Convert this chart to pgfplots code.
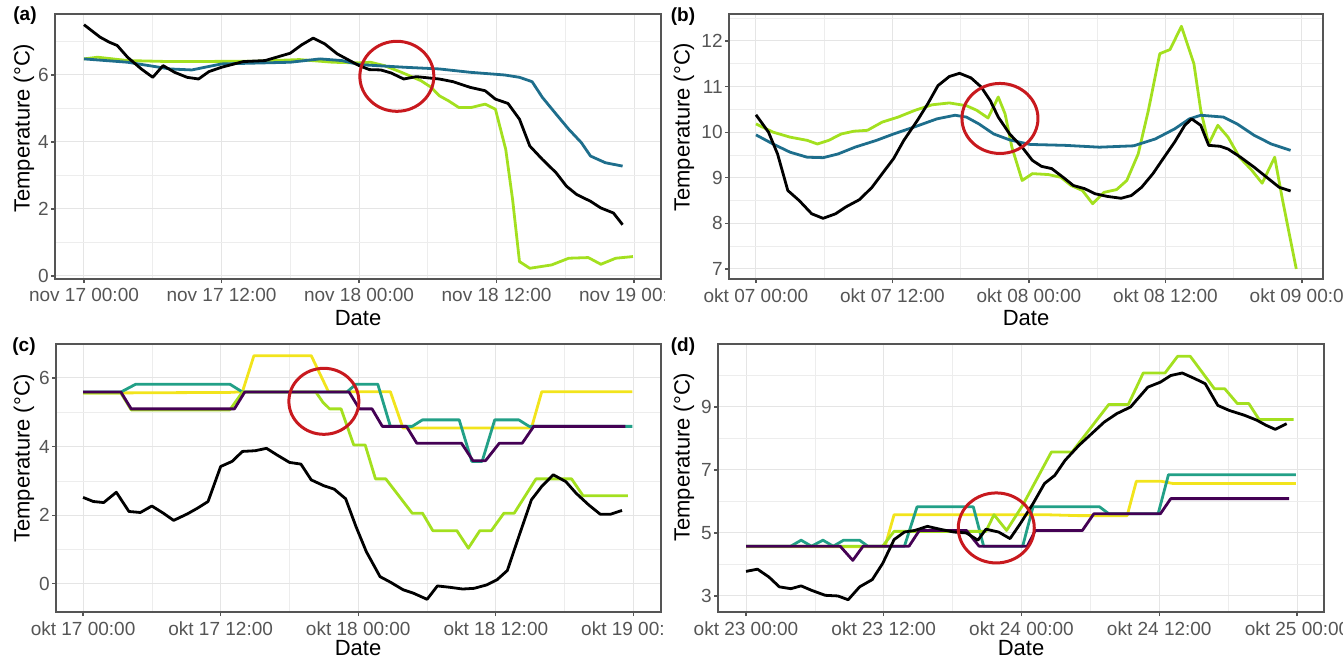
\documentclass[border=0pt]{standalone}
\usepackage{pgfplots}
\pgfplotsset{compat=1.18}
\usepackage{fontspec}
\setmainfont{Liberation Sans}

\definecolor{lime}{HTML}{A3E01F}
\definecolor{petrol}{HTML}{1E6E8C}
\definecolor{vteal}{HTML}{22A087}
\definecolor{vyellow}{HTML}{F2E41C}
\definecolor{vpurple}{HTML}{440154}
\definecolor{circ}{HTML}{C8191E}
\definecolor{framegray}{HTML}{555555}
\definecolor{tickgray}{HTML}{555555}

\tikzset{ring/.style={circ, line width=1.5pt}}
\pgfplotsset{
  panel/.style={
    scale only axis, anchor=south west,
    axis line style={framegray, line width=0.8pt},
    tick style={framegray, line width=0.6pt},
    tick align=outside, major tick length=2pt, minor tick length=0pt,
    xtick pos=left, ytick pos=left,
    grid=both,
    major grid style={color=black!10, line width=0.5pt},
    minor grid style={color=black!7, line width=0.3pt},
    xtick={0,12,24,36,48}, minor xtick={6,18,30,42},
    ticklabel style={font=\fontsize{9.5}{11}\selectfont, text=tickgray, inner sep=1pt},
    xticklabel style={yshift=-1.5pt},
    /pgf/number format/assume math mode=true,
    every axis plot/.append style={line width=1.4pt, line join=round, no markers},
  },
}

\begin{document}
\begin{tikzpicture}
\useasboundingbox (0,0) rectangle (671.5pt,330.5pt);

% (a)
\begin{scope}
\clip (0,165.5pt) rectangle (332pt,330.5pt);
\begin{axis}[panel, at={(27.5pt,191pt)}, width=303pt, height=132.5pt,
  xmin=-2.53, xmax=50.35, ymin=-0.09, ymax=7.82,
  ytick={0,2,4,6}, minor ytick={1,3,5,7},
  xticklabels={nov 17 00:00, nov 17 12:00, nov 18 00:00, nov 18 12:00, nov 19 00:00}]
\addplot[lime] coordinates {(0,6.48)(1.2,6.53)(3.8,6.43)(7.5,6.4)(15,6.41)(18.8,6.46)(21.7,6.38)(24,6.36)(25,6.38)(26.2,6.28)(27.7,6.08)(29.4,5.83)(30.3,5.63)(31,5.38)(31.8,5.23)(32.7,5.03)(33.8,5.03)(35,5.13)(35.9,4.98)(36.8,3.78)(37.4,2.28)(38,0.43)(38.9,0.23)(40.8,0.33)(42.3,0.53)(44,0.55)(45.1,0.35)(46.4,0.53)(47.9,0.58)};
\addplot[petrol] coordinates {(0,6.48)(3.8,6.38)(7.5,6.18)(9.4,6.15)(12,6.33)(18,6.38)(20.6,6.48)(22.5,6.43)(24,6.31)(28,6.23)(31,6.18)(33.7,6.08)(36.7,6.0)(38,5.93)(39.1,5.8)(40,5.33)(41.2,4.83)(42.3,4.38)(43.4,3.98)(44.2,3.58)(45.5,3.38)(47,3.28)};
\addplot[black] coordinates {(0,7.5)(1.4,7.13)(2.2,6.98)(2.9,6.88)(3.8,6.53)(5,6.18)(6,5.93)(6.9,6.28)(7.9,6.08)(9,5.93)(10,5.88)(10.9,6.1)(12,6.23)(13.9,6.4)(15.8,6.43)(18,6.65)(19,6.9)(20,7.1)(21,6.93)(22.1,6.63)(24,6.28)(24.9,6.16)(25.9,6.15)(26.8,6.06)(27.9,5.88)(29,5.95)(31,5.88)(32.2,5.8)(33.7,5.63)(35,5.53)(35.9,5.28)(37,5.15)(38,4.68)(38.9,3.88)(40,3.48)(41.2,3.08)(42.1,2.68)(43,2.43)(44.2,2.23)(45.1,2.03)(46.2,1.88)(47,1.53)};
\draw[ring] (axis cs:27.3,5.96) ellipse [x radius=18.5pt, y radius=17.5pt];
\end{axis}
\end{scope}

% (b)
\begin{scope}
\clip (332pt,165.5pt) rectangle (671.5pt,330.5pt);
\begin{axis}[panel, at={(364.5pt,191pt)}, width=297pt, height=132.5pt,
  xmin=-2.37, xmax=49.85, ymin=6.78, ymax=12.59,
  ytick={7,8,9,10,11,12}, minor ytick={7.5,8.5,9.5,10.5,11.5,12.5},
  xticklabels={okt 07 00:00, okt 07 12:00, okt 08 00:00, okt 08 12:00, okt 09 00:00}]
\addplot[lime] coordinates {(0,10.18)(1.5,10.0)(3,9.89)(4.5,9.82)(5.4,9.74)(6.4,9.82)(7.5,9.96)(8.6,10.02)(9.8,10.04)(11.1,10.22)(12.5,10.33)(14,10.48)(15.5,10.6)(17,10.64)(18.5,10.58)(19.4,10.48)(20.4,10.31)(21.3,10.77)(21.9,10.4)(22.5,9.67)(23.4,8.94)(24.3,9.09)(25.7,9.07)(26.8,9.01)(27.7,8.83)(28.7,8.72)(29.6,8.43)(30.6,8.68)(31.7,8.74)(32.6,8.94)(33.6,9.52)(34.5,10.48)(35.5,11.72)(36.4,11.81)(37.4,12.32)(38.5,11.5)(39.1,10.48)(39.8,9.74)(40.6,10.15)(41.5,9.89)(42.5,9.45)(43.6,9.16)(44.5,8.88)(45.6,9.45)(46.3,8.5)(47.5,7.0)};
\addplot[petrol] coordinates {(0,9.94)(1.5,9.74)(3,9.56)(4.5,9.45)(5.9,9.44)(7.2,9.52)(8.7,9.67)(10.6,9.82)(12.1,9.96)(14,10.12)(15.9,10.29)(17.5,10.37)(18.5,10.33)(19.6,10.18)(20.9,9.96)(22.3,9.83)(24.1,9.73)(27.2,9.71)(30.2,9.67)(33.2,9.7)(35.1,9.85)(36.8,10.07)(38.1,10.29)(39.1,10.37)(41.1,10.33)(42.3,10.18)(43.8,9.93)(45.3,9.74)(47,9.6)};
\addplot[black] coordinates {(0,10.38)(1.1,10.0)(1.9,9.52)(2.8,8.72)(3.8,8.5)(4.9,8.21)(5.9,8.11)(7,8.21)(7.9,8.36)(9.1,8.52)(10.2,8.79)(11.1,9.09)(12.1,9.42)(13,9.82)(14.2,10.26)(15.1,10.62)(16,11.02)(17,11.22)(17.9,11.29)(18.9,11.19)(19.8,10.99)(20.6,10.69)(21.3,10.33)(22.3,9.96)(23.4,9.67)(24.3,9.38)(25.1,9.25)(26,9.2)(27,9.01)(27.9,8.83)(28.9,8.76)(29.8,8.65)(30.9,8.59)(32.1,8.55)(33,8.61)(33.9,8.79)(34.9,9.09)(35.8,9.42)(36.8,9.78)(37.7,10.15)(38.3,10.29)(39.1,10.15)(39.8,9.71)(40.8,9.69)(41.5,9.63)(42.6,9.45)(43.8,9.23)(44.9,9.01)(46,8.79)(47,8.71)};
\draw[ring] (axis cs:21.45,10.3) ellipse [x radius=19pt, y radius=17.5pt];
\end{axis}
\end{scope}

% (c)
\begin{scope}
\clip (0,0) rectangle (332pt,165.5pt);
\begin{axis}[panel, at={(28pt,24.5pt)}, width=302.5pt, height=134pt,
  xmin=-2.36, xmax=50.4, ymin=-0.82, ymax=6.99,
  ytick={0,2,4,6}, minor ytick={1,3,5},
  xticklabels={okt 17 00:00, okt 17 12:00, okt 18 00:00, okt 18 12:00, okt 19 00:00}]
\addplot[vyellow] coordinates {(0,5.56)(12.8,5.58)(13.9,5.6)(14.9,6.65)(19.9,6.65)(21.4,5.6)(26.8,5.6)(27.9,4.54)(39.1,4.54)(40,5.6)(47.9,5.6)};
\addplot[vteal] coordinates {(0,5.59)(3.3,5.59)(4.6,5.82)(12.8,5.82)(13.9,5.59)(23,5.59)(23.8,5.82)(25.7,5.82)(26.8,4.59)(28.7,4.59)(29.6,4.78)(32.8,4.78)(33.9,3.57)(34.8,3.57)(35.9,4.78)(38,4.78)(38.9,4.59)(47.9,4.59)};
\addplot[lime] coordinates {(0,5.56)(3.3,5.56)(4.2,5.07)(12.8,5.07)(13.9,5.59)(20.3,5.59)(20.9,5.3)(21.5,5.1)(22.5,5.1)(23.6,4.05)(24.6,4.05)(25.5,3.06)(26.4,3.06)(28.7,2.06)(29.6,2.06)(30.5,1.55)(32.6,1.55)(33.6,1.04)(34.6,1.55)(35.6,1.55)(36.7,2.06)(37.6,2.06)(39.5,3.06)(42.6,3.06)(43.6,2.57)(47.5,2.57)};
\addplot[vpurple] coordinates {(0,5.59)(3.3,5.59)(4.2,5.1)(13.2,5.1)(14.1,5.59)(23.2,5.59)(24.1,5.1)(25.2,5.1)(26.1,4.59)(28.2,4.59)(29.1,4.1)(33,4.1)(34,3.59)(35.1,3.59)(36.3,4.1)(38.3,4.1)(39.3,4.59)(47.3,4.59)};
\addplot[black] coordinates {(0,2.52)(0.9,2.4)(1.8,2.37)(2.9,2.67)(4,2.11)(5,2.08)(6,2.27)(7,2.06)(7.9,1.85)(9.1,2.04)(10,2.21)(10.9,2.4)(12,3.42)(13,3.57)(13.9,3.86)(15,3.88)(16,3.95)(16.9,3.76)(18,3.54)(19,3.49)(19.9,3.03)(21,2.86)(21.9,2.76)(22.9,2.48)(23.8,1.67)(24.7,0.94)(25.9,0.21)(26.8,0.05)(27.9,-0.17)(28.8,-0.27)(30,-0.45)(30.9,-0.06)(32,-0.1)(33.1,-0.15)(34.1,-0.13)(35.2,-0.03)(36.1,0.12)(37,0.39)(38,1.38)(39.1,2.45)(40,2.84)(41,3.18)(42.1,2.98)(43,2.64)(44.1,2.3)(45.1,2.03)(46,2.03)(47,2.14)};
\draw[ring] (axis cs:21.0,5.32) ellipse [x radius=17.5pt, y radius=16.5pt];
\end{axis}
\end{scope}

% (d)
\begin{scope}
\clip (332pt,0) rectangle (671.5pt,165.5pt);
\begin{axis}[panel, at={(359pt,24.5pt)}, width=303pt, height=134pt,
  xmin=-2.44, xmax=50.35, ymin=2.49, ymax=11.0,
  ytick={3,5,7,9}, minor ytick={4,6,8,10},
  xticklabels={okt 23 00:00, okt 23 12:00, okt 24 00:00, okt 24 12:00, okt 25 00:00}]
\addplot[vyellow] coordinates {(0,4.56)(12.1,4.56)(12.9,5.58)(26,5.58)(29,5.55)(33.2,5.55)(34,6.64)(36.2,6.64)(37.2,6.57)(47.9,6.57)};
\addplot[vteal] coordinates {(0,4.58)(3.9,4.58)(4.8,4.77)(5.7,4.58)(6.7,4.77)(7.6,4.58)(8.5,4.77)(9.9,4.77)(10.6,4.58)(13.8,4.58)(14.9,5.83)(19.8,5.83)(20.7,4.58)(24.1,4.58)(25,5.83)(30.8,5.83)(31.6,5.61)(35.9,5.61)(36.8,6.85)(47.9,6.85)};
\addplot[lime] coordinates {(0,4.58)(11.9,4.58)(12.9,5.05)(20.3,5.05)(20.9,5.05)(21.6,5.58)(22.7,5.08)(24.1,5.88)(26.6,7.57)(28.4,7.57)(31.6,9.08)(33.3,9.08)(34.6,10.08)(36.5,10.08)(37.6,10.61)(38.7,10.61)(40.8,9.58)(41.7,9.58)(42.8,9.11)(43.8,9.11)(44.7,8.6)(47.7,8.6)};
\addplot[vpurple] coordinates {(0,4.58)(8.2,4.58)(9.3,4.13)(10.2,4.58)(14.2,4.58)(15.1,5.08)(19.2,5.08)(20.3,4.58)(24.5,4.58)(25.2,5.08)(29.3,5.08)(30.3,5.61)(36.1,5.61)(37,6.09)(47.3,6.09)};
\addplot[black] coordinates {(0,3.78)(1,3.85)(2,3.6)(2.9,3.29)(3.9,3.23)(4.8,3.32)(5.7,3.18)(6.9,3.02)(8,3.0)(8.9,2.88)(9.9,3.29)(11,3.52)(11.9,4.03)(12.9,4.79)(13.8,5.03)(14.7,5.08)(15.8,5.21)(17,5.11)(18.1,5.03)(19.2,5.0)(20.2,4.77)(20.9,5.12)(22,5.03)(23,4.82)(23.9,5.3)(25,5.93)(26,6.57)(26.9,6.83)(27.8,7.31)(29,7.78)(30.1,8.15)(31.2,8.52)(32.3,8.79)(33.5,9.0)(34,9.21)(35,9.63)(36.1,9.79)(37,10.0)(38,10.08)(39.1,9.9)(40,9.74)(41.1,9.05)(42.1,8.89)(43.4,8.74)(44.5,8.58)(45.3,8.42)(46.1,8.29)(47.1,8.47)};
\draw[ring] (axis cs:21.8,5.16) ellipse [x radius=19pt, y radius=17.5pt];
\end{axis}
\end{scope}

% panel tags and axis titles
\tikzset{tag/.style={font=\bfseries\fontsize{9.5}{11}\selectfont, inner sep=0pt},
  ttl/.style={font=\fontsize{11}{13}\selectfont, inner sep=0pt}}
\node[tag] at (12.5pt,322.5pt) {(a)};
\node[tag] at (341.5pt,322pt) {(b)};
\node[tag] at (12pt,157pt) {(c)};
\node[tag] at (341.5pt,157pt) {(d)};
\node[ttl] at (179pt,171.5pt) {Date};
\node[ttl] at (513pt,171.5pt) {Date};
\node[ttl] at (179pt,6.5pt) {Date};
\node[ttl] at (510.5pt,6.5pt) {Date};
\node[ttl, rotate=90, anchor=west] at (12pt,224pt) {Temperature (°C)};
\node[ttl, rotate=90, anchor=west] at (342pt,224.5pt) {Temperature (°C)};
\node[ttl, rotate=90, anchor=west] at (12pt,59pt) {Temperature (°C)};
\node[ttl, rotate=90, anchor=west] at (342pt,59.5pt) {Temperature (°C)};
\end{tikzpicture}
\end{document}
